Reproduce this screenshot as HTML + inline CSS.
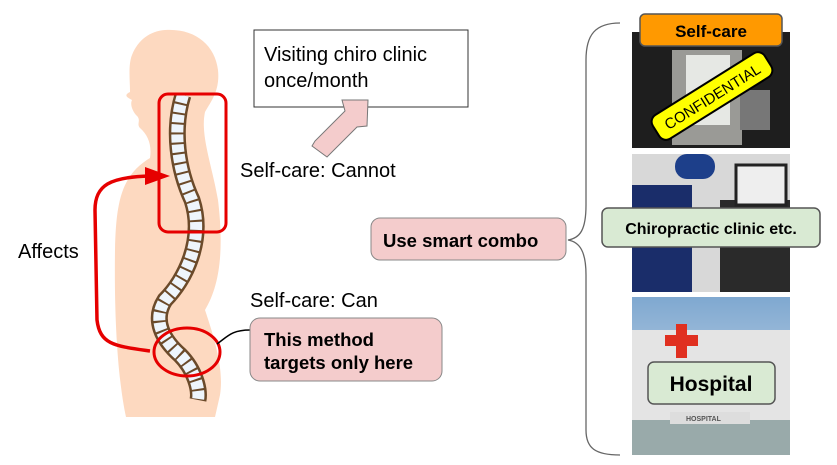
<!DOCTYPE html>
<html><head><style>body{margin:0;background:#fff}svg{display:block;font-family:"Liberation Sans",sans-serif}</style></head><body>
<svg width="837" height="465" viewBox="0 0 837 465">
<defs><linearGradient id="sky" x1="0" y1="0" x2="0" y2="1"><stop offset="0" stop-color="#7fa8d0"/><stop offset="1" stop-color="#dfe8f0"/></linearGradient></defs>
<!-- body -->
<path d="M165,30 C195,28 215,45 218,70 C220,90 212,100 205,112 C200,135 212,165 218,200 C224,250 220,285 205,310 C215,340 224,370 220,395 L215,417 L126,417 C118,380 114,320 115,250 C116,200 122,175 150,158 C152,145 148,135 140,128 C136,124 142,120 136,115 C132,110 130,104 132,100 C126,97 124,95 130,92 C130,80 128,65 132,55 C138,40 150,31 165,30 Z" fill="#fdd9c0"/>
<!-- spine -->
<path d="M183,95 C172,130 178,170 192,200 C205,240 185,280 165,300 C152,320 163,340 180,355 C195,370 200,390 198,400" stroke="#6b4a2a" stroke-width="17" fill="none"/>
<path d="M183,95 C172,130 178,170 192,200 C205,240 185,280 165,300 C152,320 163,340 180,355 C195,370 200,390 198,400" stroke="#eef5fc" stroke-width="12" fill="none" stroke-dasharray="8 2"/>
<!-- red -->
<rect x="159" y="94" width="67" height="138" rx="9" fill="none" stroke="#e60000" stroke-width="3"/>
<ellipse cx="187" cy="352" rx="33" ry="24" fill="none" stroke="#e60000" stroke-width="3"/>
<path d="M150,351 C115,346 100,345 97,320 L95,210 C95,185 110,177 150,176" fill="none" stroke="#e60000" stroke-width="3.5"/>
<polygon points="145,167 170,176 145,185" fill="#e60000"/>
<text x="18" y="258" font-size="20">Affects</text>
<rect x="254" y="30" width="214" height="77" fill="#fff" stroke="#333"/>
<text x="264" y="61" font-size="20">Visiting chiro clinic</text>
<text x="264" y="87" font-size="20">once/month</text>
<polygon points="312,146 327,157 357,127 367,126 368,100 342,100 345,111 315,141" fill="#f4cccc" stroke="#777"/>
<text x="240" y="177" font-size="20">Self-care: Cannot</text>
<text x="250" y="307" font-size="20">Self-care: Can</text>
<path d="M217,344 C228,336 232,330 250,330" fill="none" stroke="#000" stroke-width="1.5"/>
<rect x="250" y="318" width="192" height="63" rx="10" fill="#f4cccc" stroke="#888"/>
<text x="264" y="346" font-size="18.5" font-weight="bold">This method</text>
<text x="264" y="369" font-size="18.5" font-weight="bold">targets only here</text>
<rect x="371" y="218" width="195" height="42" rx="9" fill="#f4cccc" stroke="#888"/>
<text x="383" y="247" font-size="18.5" font-weight="bold">Use smart combo</text>
<path d="M620,23 C595,23 586,35 586,60 L586,205 C586,230 580,238 568,240 C580,242 586,252 586,275 L586,430 C586,448 595,455 620,455" fill="none" stroke="#666" stroke-width="1.3"/>
<!-- images -->
<rect x="632" y="32" width="158" height="116" fill="#1e1e1e"/>
<rect x="672" y="50" width="70" height="95" fill="#9a9a96"/>
<rect x="686" y="55" width="44" height="70" fill="#e6e8e4"/>
<rect x="740" y="90" width="30" height="40" fill="#777"/>
<rect x="632" y="154" width="158" height="138" fill="#d8d8d8"/>
<rect x="632" y="185" width="60" height="107" fill="#1a2d6a"/>
<rect x="675" y="154" width="40" height="25" rx="12" fill="#1d3f8a"/>
<rect x="720" y="200" width="70" height="92" fill="#2a2a2a"/>
<rect x="736" y="165" width="50" height="40" fill="#eee" stroke="#222" stroke-width="3"/>
<rect x="632" y="297" width="158" height="158" fill="url(#sky)"/>
<rect x="632" y="330" width="158" height="125" fill="#e4e4e4"/>
<rect x="632" y="420" width="158" height="35" fill="#9aa"/>
<rect x="670" y="412" width="80" height="12" fill="#ddd"/>
<text x="686" y="421" font-size="7" font-weight="bold" fill="#555">HOSPITAL</text>
<rect x="676" y="324" width="11" height="34" fill="#e03020"/>
<rect x="665" y="335" width="33" height="11" fill="#e03020"/>
<g transform="translate(712,96) rotate(-32)"><rect x="-66" y="-14" width="132" height="28" rx="8" fill="#ffff00" stroke="#000" stroke-width="2"/><text x="0" y="6" font-size="15" text-anchor="middle">CONFIDENTIAL</text></g>
<rect x="640" y="14" width="142" height="32" rx="5" fill="#ff9900" stroke="#555" stroke-width="1.5"/>
<text x="711" y="37" font-size="17" font-weight="bold" text-anchor="middle">Self-care</text>
<rect x="602" y="208" width="218" height="39" rx="6" fill="#d9ead3" stroke="#555" stroke-width="1.5"/>
<text x="711" y="234" font-size="16" font-weight="bold" text-anchor="middle">Chiropractic clinic etc.</text>
<rect x="648" y="362" width="127" height="42" rx="6" fill="#d9ead3" stroke="#555" stroke-width="1.5"/>
<text x="711" y="391" font-size="21" font-weight="bold" text-anchor="middle">Hospital</text>
</svg>
</body></html>
